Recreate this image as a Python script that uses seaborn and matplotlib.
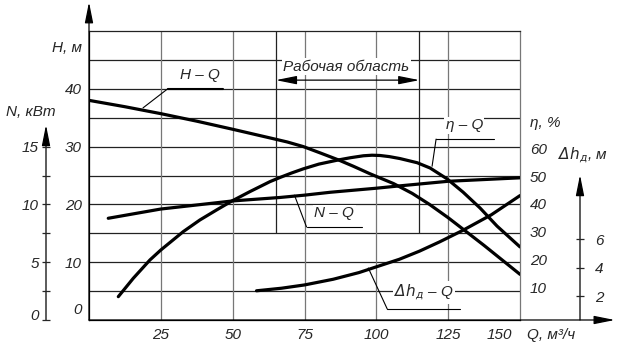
import matplotlib.pyplot as plt
import seaborn as sns
from matplotlib.transforms import ScaledTranslation

# Характеристика насоса: H-Q, N-Q, eta-Q, dh-Q
q_h = [0, 12.5, 25, 37.5, 50, 63, 69, 74.6, 80.5, 86.8, 92, 97.8, 106, 112.5, 118.5, 125, 131, 137.5, 143.5, 150]
h_vals = [38.0, 36.9, 35.7, 34.4, 33.0, 31.5, 30.8, 30.0, 28.9, 27.7, 26.6, 25.3, 23.6, 21.9, 20.0, 17.7, 15.4, 12.9, 10.5, 7.9]

q_eta = [10.2, 15.4, 21.2, 25, 32.8, 38.6, 44.4, 49.7, 56, 63, 66.5, 70.5, 74.6, 80, 86.8, 91, 95.5, 98.5,
         101.3, 104.5, 108.2, 114.2, 118.7, 124.6, 130.2, 136.1, 142, 150]
eta_vals = [6.6, 13.2, 19.8, 23.4, 30.0, 34.2, 37.8, 41.0, 44.4, 48.0, 49.5, 51.1, 52.6, 54.3, 55.8, 56.6, 57.3, 57.5,
            57.4, 57.0, 56.3, 54.8, 52.9, 49.0, 44.2, 38.5, 32.0, 24.5]

q_n = [6.7, 25, 50, 66.5, 75, 84, 100, 108, 125, 150]
n_vals = [8.8, 9.6, 10.3, 10.6, 10.8, 11.05, 11.4, 11.6, 12.0, 12.3]

q_dh = [58.3, 67, 75, 85, 94, 100, 108, 115, 122, 130, 140, 150]
dh_vals = [2.37, 2.55, 2.78, 3.18, 3.65, 4.05, 4.58, 5.15, 5.8, 6.6, 7.7, 9.05]

q_ticks = [25, 50, 75, 100, 125, 150]
h_ticks = [0, 10, 20, 30, 40]
n_ticks = [0, 2.5, 5, 7.5, 10, 12.5, 15]
n_labels = ["0", "", "5", "", "10", "", "15"]
eta_ticks = [10, 20, 30, 40, 50, 60]
dh_ticks = [2, 4, 6]
work_zone = [65, 115]

sns.set_style("white")
plt.rcParams['font.family'] = ['Liberation Sans Narrow', 'Liberation Sans', 'DejaVu Sans']
plt.rcParams['font.style'] = 'italic'
plt.rcParams['mathtext.fontset'] = 'custom'
plt.rcParams['mathtext.it'] = 'Liberation Sans Narrow:italic'
plt.rcParams['mathtext.rm'] = 'Liberation Sans Narrow:italic'
plt.rcParams['mathtext.default'] = 'rm'
FS = 11

fig = plt.figure(figsize=(6.24, 3.56), dpi=100)
ax = fig.add_axes([89/624, 36/356, 431/624, 289/356])


def fx(x):
    return x / 624


def fy(y):
    return 1 - y / 356


# сетка
for h in range(5, 50, 5):
    ax.axhline(h, color="#222222", lw=0.9, zorder=1)
for q in q_ticks[:-1]:
    ax.axvline(q, color="#777777", lw=0.9, zorder=1)
ax.vlines(work_zone, 15, 50, color="#222222", lw=0.9, zorder=1)

for s in ax.spines.values():
    s.set_linewidth(0.9)
ax.spines["left"].set_color("black")
ax.spines["bottom"].set_color("black")
ax.spines["top"].set_color("#222222")
ax.spines["right"].set_color("#777777")

# оси
ax_n = ax.twinx()
ax_eta = ax.twinx()
ax_dh = ax.twinx()
for a in (ax_n, ax_eta, ax_dh):
    for s in a.spines.values():
        s.set_visible(False)

sns.lineplot(x=q_h, y=h_vals, ax=ax, color="black", lw=2.3, zorder=5)
sns.lineplot(x=q_n, y=n_vals, ax=ax_n, color="black", lw=2.3, zorder=5)
sns.lineplot(x=q_eta, y=eta_vals, ax=ax_eta, color="black", lw=2.3, zorder=5)
sns.lineplot(x=q_dh, y=dh_vals, ax=ax_dh, color="black", lw=2.3, zorder=5)

ax.set_xlim(0, 150)
ax.set_ylim(0, 50)
ax_n.set_ylim(0, 25)
ax_eta.set_ylim(-1.8, 102.2)
ax_dh.set_ylim(0.32, 20.6)

ax.set_xticks(q_ticks)
ax.set_yticks(h_ticks)
ax.tick_params(axis="both", length=0, labelsize=FS)
ax.tick_params(axis="x", pad=6)
ax.tick_params(axis="y", pad=5)

ax_n.yaxis.tick_left()
ax_n.spines["left"].set_position(("axes", -43/431))
ax_n.set_yticks(n_ticks)
ax_n.set_yticklabels(n_labels)
ax_n.tick_params(axis="y", direction="inout", length=6, width=0.9, pad=2, labelsize=FS)

ax_eta.set_yticks(eta_ticks)
ax_eta.tick_params(axis="y", length=0, pad=7, labelsize=FS)

ax_dh.spines["right"].set_position(("axes", 491/431))
ax_dh.set_yticks(dh_ticks)
ax_dh.tick_params(axis="y", direction="inout", length=6, width=0.9, pad=8, labelsize=FS)

for a in (ax_n, ax_eta, ax_dh):
    a.set_ylabel("")
ax.set_xlabel("")
ax.set_ylabel("")

# сдвиг отдельных подписей как на чертеже
lab = ax.xaxis.get_major_ticks()[-1].label1
lab.set_transform(lab.get_transform() + ScaledTranslation(-0.21, 0, fig.dpi_scale_trans))
lab = ax.yaxis.get_major_ticks()[0].label1
lab.set_transform(lab.get_transform() + ScaledTranslation(0, 0.12, fig.dpi_scale_trans))
lab = ax_n.yaxis.get_major_ticks()[0].label1
lab.set_transform(lab.get_transform() + ScaledTranslation(0, 0.05, fig.dpi_scale_trans))

# стрелки осей
arr = dict(arrowstyle="-|>,head_length=0.9,head_width=0.18", color="black", lw=0.9,
           shrinkA=0, shrinkB=0, mutation_scale=14)
for start, end in [((0, 0), (0, 1.1)), ((0, 0), (1.22, 0)),
                   ((-43/431, 0), (-43/431, 0.675)), ((491/431, 0), (491/431, 0.502))]:
    ax.annotate("", xy=end, xytext=start, xycoords="axes fraction",
                textcoords="axes fraction", arrowprops=arr, annotation_clip=False)

# рабочая область
ax.annotate("", xy=(work_zone[1], 41.5), xytext=(work_zone[0], 41.5),
            arrowprops=dict(arrowstyle="<|-|>,head_length=0.9,head_width=0.18", color="black",
                            lw=0.9, shrinkA=0, shrinkB=0, mutation_scale=14))
box = dict(facecolor="white", edgecolor="none", pad=1)
ax.text(89.5, 43.8, "Рабочая область", ha="center", va="center", fontsize=FS, bbox=box, zorder=3)

# подписи кривых
lead = dict(color="black", lw=0.8, zorder=4)
ax.text(38.5, 42.4, "H – Q", ha="center", va="center", fontsize=FS, zorder=3)
ax.plot([27.4, 46.5], [40, 40], color="black", lw=1.5, zorder=4)
ax.plot([27.4, 18.8], [40, 36.7], **lead)

ax.text(130.6, 33.7, "η – Q", ha="center", va="center", fontsize=FS, bbox=box, zorder=3)
ax.plot([120.8, 141], [31.3, 31.3], **lead)
ax.plot([120.8, 119.4], [31.3, 26.6], **lead)

ax.text(85.4, 18.5, "N – Q", ha="center", va="center", fontsize=FS, bbox=box, zorder=3)
ax.plot([75.7, 95.1], [16.1, 16.1], **lead)
ax.plot([75.7, 71.5], [16.1, 21.6], **lead)

ax.text(116.6, 4.8, r"$\Delta h_д$ – Q", ha="center", va="center", fontsize=FS, bbox=box, zorder=3)
ax.plot([103.8, 129], [1.9, 1.9], **lead)
ax.plot([103.8, 97.2], [1.9, 9.0], **lead)

# подписи осей
fig.text(fx(67), fy(48), "H, м", ha="center", va="center", fontsize=FS)
fig.text(fx(31), fy(112), "N, кВт", ha="center", va="center", fontsize=FS)
fig.text(fx(530), fy(123), "η, %", ha="left", va="center", fontsize=FS)
fig.text(fx(558), fy(155), r"$\Delta h_д$, м", ha="left", va="center", fontsize=FS)
fig.text(fx(527), fy(335), "Q, м³/ч", ha="left", va="center", fontsize=FS)

fig.savefig("out.png", dpi=100)
